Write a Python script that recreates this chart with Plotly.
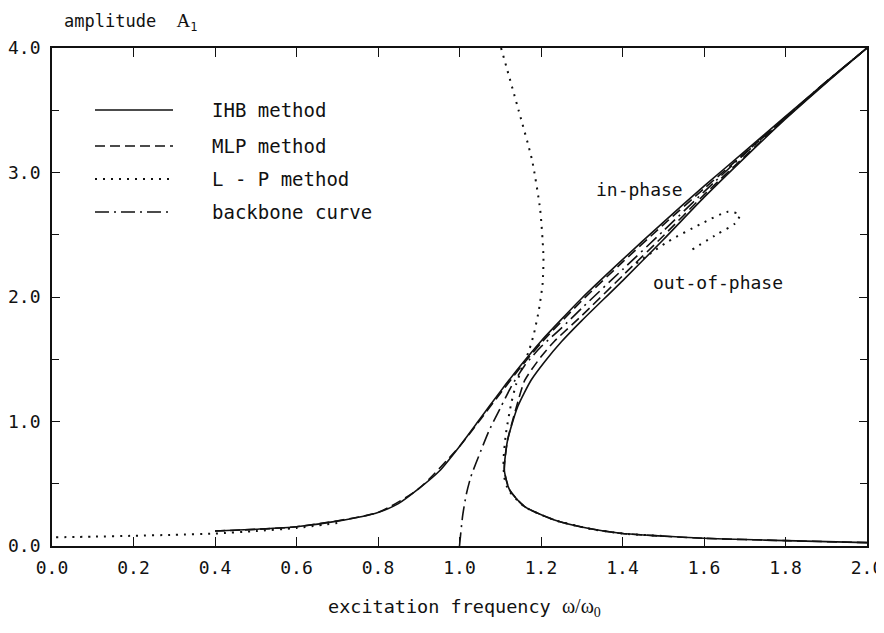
import plotly.graph_objects as go

# ---------------- data ----------------
# IHB method: resonant (in-phase) upper branch
ihb_up_x = [0.40, 0.50, 0.60, 0.70, 0.80, 0.85, 0.90, 0.95, 1.00, 1.05, 1.10, 1.15, 1.20, 1.25,
            1.30, 1.40, 1.50, 1.60, 1.70, 1.80, 1.90, 2.00]
ihb_up_y = [0.12, 0.135, 0.155, 0.20, 0.27, 0.34, 0.46, 0.60, 0.80, 1.02, 1.24, 1.45, 1.645, 1.82,
            1.99, 2.30, 2.60, 2.89, 3.17, 3.45, 3.73, 4.00]
# IHB method: lower branch + unstable middle branch
ihb_lo_x = [2.00, 1.90, 1.80, 1.70, 1.60, 1.50, 1.40, 1.315, 1.233, 1.16, 1.123, 1.110, 1.118, 1.143,
            1.176, 1.209, 1.25, 1.30, 1.40, 1.50, 1.60, 1.70, 1.80, 1.90, 2.00]
ihb_lo_y = [0.027, 0.035, 0.043, 0.052, 0.062, 0.08, 0.10, 0.142, 0.209, 0.316, 0.45, 0.61, 0.85, 1.12,
            1.333, 1.48, 1.64, 1.81, 2.13, 2.46, 2.80, 3.12, 3.43, 3.72, 4.00]

# MLP method
mlp_up_x = [0.40, 0.60, 0.80, 0.90, 1.00, 1.05, 1.10, 1.15, 1.20, 1.30, 1.40, 1.50, 1.60, 1.70, 1.80, 1.90, 2.00]
mlp_up_y = [0.12, 0.155, 0.27, 0.46, 0.80, 1.01, 1.225, 1.435, 1.63, 1.97, 2.28, 2.58, 2.87, 3.155, 3.44, 3.725, 4.00]
mlp_lo_x = [2.00, 1.80, 1.60, 1.40, 1.315, 1.233, 1.16, 1.123, 1.110, 1.118, 1.14, 1.16, 1.20, 1.233,
            1.30, 1.40, 1.50, 1.60, 1.70, 1.80, 1.90, 2.00]
mlp_lo_y = [0.027, 0.043, 0.062, 0.10, 0.142, 0.209, 0.316, 0.45, 0.61, 0.85, 1.12, 1.33, 1.52, 1.645,
            1.85, 2.17, 2.49, 2.82, 3.13, 3.435, 3.725, 4.00]

# L-P method
lp_low_x = [0.01, 0.10, 0.20, 0.30, 0.40, 0.50, 0.60, 0.70]
lp_low_y = [0.07, 0.075, 0.082, 0.09, 0.10, 0.12, 0.145, 0.185]
lp_main_x = [1.102, 1.145, 1.178, 1.198, 1.206, 1.204, 1.195, 1.183, 1.171, 1.155, 1.139, 1.127,
             1.114, 1.108, 1.110, 1.120, 1.160, 1.233, 1.315, 1.40, 1.50]
lp_main_y = [4.00, 3.50, 3.10, 2.70, 2.32, 2.11, 1.90, 1.71, 1.574, 1.44, 1.30, 1.146,
             0.905, 0.69, 0.55, 0.45, 0.315, 0.208, 0.141, 0.10, 0.08]
lp_loop_x = [1.434, 1.511, 1.594, 1.659, 1.688, 1.676, 1.635, 1.569]
lp_loop_y = [2.27, 2.444, 2.59, 2.685, 2.66, 2.59, 2.51, 2.377]

# backbone curve
bb_x = [1.000, 1.003, 1.008, 1.017, 1.028, 1.053, 1.073, 1.102, 1.127, 1.160, 1.20, 1.25,
        1.30, 1.40, 1.50, 1.60, 1.70, 1.80, 1.90, 2.00]
bb_y = [0.00, 0.10, 0.25, 0.42, 0.557, 0.77, 0.93, 1.12, 1.28, 1.45, 1.60, 1.75,
        1.91, 2.22, 2.53, 2.845, 3.15, 3.445, 3.73, 4.00]

x_ticks = [0.0, 0.2, 0.4, 0.6, 0.8, 1.0, 1.2, 1.4, 1.6, 1.8, 2.0]
y_ticks = [0.0, 1.0, 2.0, 3.0, 4.0]

legend_names = ["IHB method", "MLP method", "L - P method", "backbone curve"]

# ---------------- styles ----------------
MONO = "DejaVu Sans Mono"
SERIF = "Liberation Serif"
INK = "#111111"
SOLID = "solid"
DASH = "10px,5px"
DOT = "2px,6px"
DASHDOT = "14px,5px,2px,5px"
LW = 1.6

fig = go.Figure()

def add(x, y, dash, width=LW):
    fig.add_trace(go.Scatter(x=x, y=y, mode="lines", showlegend=False, hoverinfo="skip",
                             line=dict(color=INK, width=width, dash=dash,
                                       shape="spline", smoothing=0.6)))

add(lp_low_x, lp_low_y, DOT, 2)
add(lp_main_x, lp_main_y, DOT, 2)
add(lp_loop_x, lp_loop_y, DOT, 2)
add(bb_x, bb_y, DASHDOT)
add(mlp_up_x, mlp_up_y, DASH)
add(mlp_lo_x, mlp_lo_y, DASH)
add(ihb_up_x, ihb_up_y, SOLID)
add(ihb_lo_x, ihb_lo_y, SOLID)

# ---------------- layout geometry ----------------
# the page body has an 8px default margin; keep the page from scrolling vertically
OFF = 8
W, H = 884 - OFF, 633 - 2 * OFF
L, T = 52 - OFF, 48 - OFF
R = W - (867 - OFF)
B = H - (546 - OFF)
pw, ph = W - L - R, H - T - B

def px2paper(px, py):
    # px, py are page pixel positions
    return (px - OFF - L) / pw, (H - B - (py - OFF)) / ph

legend_rows_py = [110, 146, 179, 212]
legend_dashes = [SOLID, DASH, DOT, DASHDOT]
legend_widths = [LW, LW, 2, LW]
for name, py, dsh, w in zip(legend_names, legend_rows_py, legend_dashes, legend_widths):
    x0, y0 = px2paper(95, py)
    x1, _ = px2paper(173, py)
    fig.add_shape(type="line", xref="paper", yref="paper", x0=x0, x1=x1, y0=y0, y1=y0,
                  line=dict(color=INK, width=w, dash=dsh))
    tx, _ = px2paper(210, py)
    fig.add_annotation(xref="paper", yref="paper", x=tx, y=y0, text=name, showarrow=False,
                       xanchor="left", yanchor="middle", font=dict(family=MONO, size=19, color=INK))

# curve labels
fig.add_annotation(x=1.442, y=2.86, text="in-phase", showarrow=False,
                   font=dict(family=MONO, size=18, color=INK))
fig.add_annotation(x=1.634, y=2.12, text="out-of-phase", showarrow=False,
                   font=dict(family=MONO, size=18, color=INK))

# axis titles
ax, ay = px2paper(62, OFF)
fig.add_annotation(xref="paper", yref="paper", x=ax, y=ay, xanchor="left", yanchor="top",
                   showarrow=False,
                   text="amplitude  <span style='font-family:%s;font-size:19px'>A</span><sub>1</sub>" % SERIF,
                   font=dict(family=MONO, size=17, color=INK))
bx, by = px2paper(464, 607)
fig.add_annotation(xref="paper", yref="paper", x=bx, y=by, xanchor="center", yanchor="middle",
                   showarrow=False,
                   text="excitation frequency <span style='font-family:%s;font-size:20px'>ω/ω<sub>0</sub></span>" % SERIF,
                   font=dict(family=MONO, size=18.5, color=INK))

axis_common = dict(showline=True, linecolor=INK, linewidth=1.8, mirror="ticks",
                   ticks="inside", tickcolor=INK, tickwidth=1.3, showgrid=False, zeroline=False,
                   tickformat=".1f", tickfont=dict(family=MONO, size=18, color=INK),
                   automargin=False, ticklabeloverflow="allow")

fig.update_xaxes(range=[0, 2], tickvals=x_ticks, ticklen=9, ticklabelstandoff=4, **axis_common)
fig.update_yaxes(range=[0, 4], tickvals=y_ticks, ticklen=8, ticklabelstandoff=6,
                 minor=dict(dtick=0.5, ticks="inside", ticklen=7, tickcolor=INK, tickwidth=1.3, showgrid=False),
                 **axis_common)

fig.update_layout(width=W, height=H, margin=dict(l=L, r=R, t=T, b=B),
                  paper_bgcolor="white", plot_bgcolor="white", showlegend=False)

fig.write_html("out.html")
